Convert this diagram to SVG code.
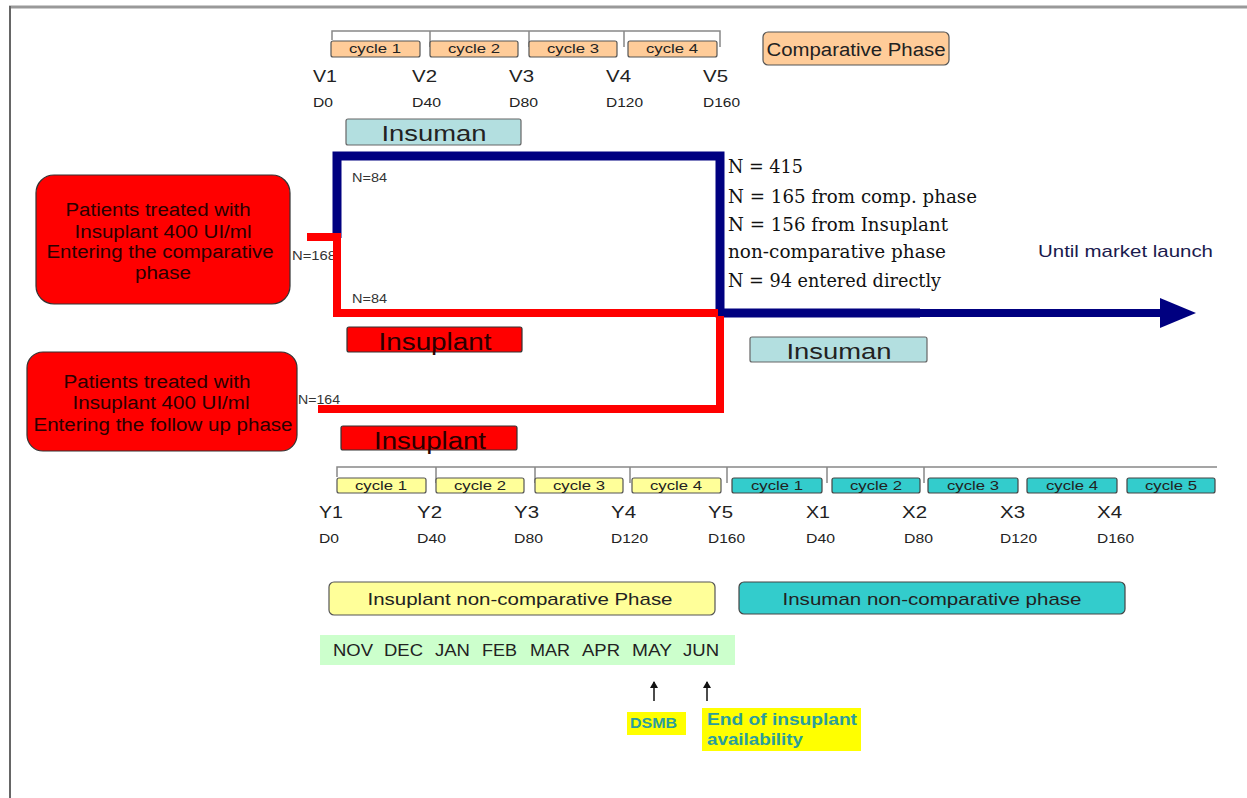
<svg xmlns="http://www.w3.org/2000/svg" width="1247" height="798" viewBox="0 0 1247 798">
<defs>
<style>
text{font-family:"Liberation Sans",Arial,sans-serif;}
.cyc{font-size:12px;fill:#222;text-anchor:middle;}
.lbl{font-size:17px;fill:#222;}
.day{font-size:13px;fill:#222;}
.or{fill:#FFCC99;stroke:#555;stroke-width:1.2;}
.ye{fill:#FFFF99;stroke:#555;stroke-width:1.2;}
.te{fill:#33CCCC;stroke:#444;stroke-width:1.2;}
.lt{fill:#B3DFE0;stroke:#666;stroke-width:1.2;}
.rd{fill:#FF0000;stroke:#333;stroke-width:1.2;}
.brk{fill:none;stroke:#888;stroke-width:1.5;}
.blue{fill:none;stroke:#000080;stroke-width:9;}
.red{fill:none;stroke:#FF0000;stroke-width:8;}
.rtxt{font-size:18px;fill:#2a0000;text-anchor:middle;}
.ntxt{font-family:"DejaVu Serif","Liberation Serif",serif;font-size:19px;fill:#111;}
.small{font-size:12px;fill:#333;}
.mon{font-size:16px;fill:#222;}
.hl{font-weight:bold;fill:#2A9D9D;}
</style>
<marker id="ah" markerWidth="8" markerHeight="8" refX="6" refY="4" orient="auto" markerUnits="userSpaceOnUse">
<path d="M0,0 L7,4 L0,8 Z" fill="#111"/>
</marker>
</defs>
<rect x="0" y="0" width="1247" height="798" fill="#fff"/>
<g id="frame">
<line x1="9" y1="7" x2="1247" y2="7" stroke="#999" stroke-width="3"/>
<line x1="10" y1="6" x2="10" y2="798" stroke="#666" stroke-width="2"/>
</g>

<g id="top-timeline">
<path class="brk" d="M332,40 V31 H720 V47 M430,31 V47 M529,31 V47 M624,31 V47"/>
<rect class="or" x="331" y="41" width="89" height="16" rx="2"/>
<text class="cyc" x="375" y="53" textLength="52" lengthAdjust="spacingAndGlyphs">cycle 1</text>
<rect class="or" x="430" y="41" width="88" height="16" rx="2"/>
<text class="cyc" x="474" y="53" textLength="52" lengthAdjust="spacingAndGlyphs">cycle 2</text>
<rect class="or" x="529" y="41" width="88" height="16" rx="2"/>
<text class="cyc" x="573" y="53" textLength="52" lengthAdjust="spacingAndGlyphs">cycle 3</text>
<rect class="or" x="628" y="41" width="89" height="16" rx="2"/>
<text class="cyc" x="672" y="53" textLength="52" lengthAdjust="spacingAndGlyphs">cycle 4</text>
<text class="lbl" x="313" y="82" textLength="24" lengthAdjust="spacingAndGlyphs">V1</text>
<text class="lbl" x="412" y="82" textLength="25" lengthAdjust="spacingAndGlyphs">V2</text>
<text class="lbl" x="509" y="82" textLength="25" lengthAdjust="spacingAndGlyphs">V3</text>
<text class="lbl" x="606" y="82" textLength="25" lengthAdjust="spacingAndGlyphs">V4</text>
<text class="lbl" x="703" y="82" textLength="25" lengthAdjust="spacingAndGlyphs">V5</text>
<text class="day" x="313" y="107" textLength="20" lengthAdjust="spacingAndGlyphs">D0</text>
<text class="day" x="412" y="107" textLength="29" lengthAdjust="spacingAndGlyphs">D40</text>
<text class="day" x="509" y="107" textLength="29" lengthAdjust="spacingAndGlyphs">D80</text>
<text class="day" x="606" y="107" textLength="37" lengthAdjust="spacingAndGlyphs">D120</text>
<text class="day" x="703" y="107" textLength="37" lengthAdjust="spacingAndGlyphs">D160</text>
</g>

<g id="comparative-phase">
<rect class="or" x="763" y="32" width="186" height="33" rx="5"/>
<text x="856" y="56" font-size="18" fill="#222" text-anchor="middle" textLength="179" lengthAdjust="spacingAndGlyphs">Comparative Phase</text>
</g>

<g id="insuman-top">
<rect class="lt" x="346" y="119" width="175" height="26" rx="2"/>
<text x="434" y="141" font-size="22" fill="#222" text-anchor="middle" textLength="105" lengthAdjust="spacingAndGlyphs">Insuman</text>
</g>

<g id="n-labels">
<text class="small" x="352" y="182" textLength="35" lengthAdjust="spacingAndGlyphs">N=84</text>
<text class="small" x="352" y="303" textLength="35" lengthAdjust="spacingAndGlyphs">N=84</text>
<text class="small" x="292" y="260" font-size="11" textLength="44" lengthAdjust="spacingAndGlyphs">N=168</text>
<text class="small" x="298" y="404" font-size="11" textLength="42" lengthAdjust="spacingAndGlyphs">N=164</text>
</g>

<g id="connectors">
<path class="blue" d="M337,238 V156 H720 V313 H920"/>
<path d="M920,313 H1162" fill="none" stroke="#000080" stroke-width="8"/>
<path class="red" d="M307,237 H337 V313 H718"/>
<path class="red" d="M318,409 H720 V316"/>
<path d="M1160,298 L1196,313 L1160,328 Z" fill="#000080"/>
<line x1="654" y1="701" x2="654" y2="682" stroke="#111" stroke-width="1.5" marker-end="url(#ah)"/>
<line x1="707" y1="701" x2="707" y2="682" stroke="#111" stroke-width="1.5" marker-end="url(#ah)"/>
</g>

<g id="box-comparative">
<rect class="rd" x="36" y="175" width="254" height="129" rx="18"/>
<text class="rtxt" x="158" y="216" textLength="185" lengthAdjust="spacingAndGlyphs">Patients treated with</text>
<text class="rtxt" x="163" y="238" textLength="177" lengthAdjust="spacingAndGlyphs">Insuplant 400 UI/ml</text>
<text class="rtxt" x="160" y="258" textLength="227" lengthAdjust="spacingAndGlyphs">Entering the comparative</text>
<text class="rtxt" x="163" y="279" textLength="56" lengthAdjust="spacingAndGlyphs">phase</text>
</g>

<g id="box-followup">
<rect class="rd" x="27" y="352" width="270" height="99" rx="16"/>
<text class="rtxt" x="157" y="388" textLength="187" lengthAdjust="spacingAndGlyphs">Patients treated with</text>
<text class="rtxt" x="161" y="409" textLength="177" lengthAdjust="spacingAndGlyphs">Insuplant 400 UI/ml</text>
<text class="rtxt" x="163" y="431" textLength="259" lengthAdjust="spacingAndGlyphs">Entering the follow up phase</text>
</g>

<g id="insuplant-1">
<rect class="rd" x="347" y="327" width="175" height="25" rx="2"/>
<text x="435" y="350" font-size="23" fill="#2a0000" text-anchor="middle" textLength="113" lengthAdjust="spacingAndGlyphs">Insuplant</text>
</g>
<g id="insuplant-2">
<rect class="rd" x="341" y="426" width="176" height="24" rx="2"/>
<text x="430" y="449" font-size="23" fill="#2a0000" text-anchor="middle" textLength="112" lengthAdjust="spacingAndGlyphs">Insuplant</text>
</g>

<g id="insuman-mid">
<rect class="lt" x="750" y="337" width="177" height="25" rx="2"/>
<text x="839" y="359" font-size="22" fill="#222" text-anchor="middle" textLength="105" lengthAdjust="spacingAndGlyphs">Insuman</text>
</g>

<g id="n-summary">
<text class="ntxt" x="728" y="173" textLength="75" lengthAdjust="spacingAndGlyphs">N = 415</text>
<text class="ntxt" x="728" y="203" textLength="249" lengthAdjust="spacingAndGlyphs">N = 165 from comp. phase</text>
<text class="ntxt" x="728" y="231" textLength="220" lengthAdjust="spacingAndGlyphs">N = 156 from Insuplant</text>
<text class="ntxt" x="728" y="258" textLength="218" lengthAdjust="spacingAndGlyphs">non-comparative phase</text>
<text class="ntxt" x="728" y="287" textLength="213" lengthAdjust="spacingAndGlyphs">N = 94 entered directly</text>
</g>

<g id="market-launch">
<text x="1038" y="257" font-size="17" fill="#1a1a4d" textLength="175" lengthAdjust="spacingAndGlyphs">Until market launch</text>
</g>

<g id="bottom-timeline">
<path class="brk" d="M337,477 V467 H1217 M436,467 V483 M535,467 V483 M630,467 V483 M727,467 V483 M827,467 V483 M924,467 V483"/>
<rect class="ye" x="337" y="478" width="89" height="15" rx="2"/>
<text class="cyc" x="381" y="490" textLength="52" lengthAdjust="spacingAndGlyphs">cycle 1</text>
<rect class="ye" x="436" y="478" width="88" height="15" rx="2"/>
<text class="cyc" x="480" y="490" textLength="52" lengthAdjust="spacingAndGlyphs">cycle 2</text>
<rect class="ye" x="535" y="478" width="88" height="15" rx="2"/>
<text class="cyc" x="579" y="490" textLength="52" lengthAdjust="spacingAndGlyphs">cycle 3</text>
<rect class="ye" x="632" y="478" width="89" height="15" rx="2"/>
<text class="cyc" x="676" y="490" textLength="52" lengthAdjust="spacingAndGlyphs">cycle 4</text>
<rect class="te" x="732" y="478" width="90" height="15" rx="2"/>
<text class="cyc" x="777" y="490" textLength="52" lengthAdjust="spacingAndGlyphs">cycle 1</text>
<rect class="te" x="832" y="478" width="88" height="15" rx="2"/>
<text class="cyc" x="876" y="490" textLength="52" lengthAdjust="spacingAndGlyphs">cycle 2</text>
<rect class="te" x="928" y="478" width="90" height="15" rx="2"/>
<text class="cyc" x="973" y="490" textLength="52" lengthAdjust="spacingAndGlyphs">cycle 3</text>
<rect class="te" x="1027" y="478" width="90" height="15" rx="2"/>
<text class="cyc" x="1072" y="490" textLength="52" lengthAdjust="spacingAndGlyphs">cycle 4</text>
<rect class="te" x="1127" y="478" width="88" height="15" rx="2"/>
<text class="cyc" x="1171" y="490" textLength="52" lengthAdjust="spacingAndGlyphs">cycle 5</text>
<text class="lbl" x="319" y="518" textLength="24" lengthAdjust="spacingAndGlyphs">Y1</text>
<text class="lbl" x="417" y="518" textLength="25" lengthAdjust="spacingAndGlyphs">Y2</text>
<text class="lbl" x="514" y="518" textLength="25" lengthAdjust="spacingAndGlyphs">Y3</text>
<text class="lbl" x="611" y="518" textLength="25" lengthAdjust="spacingAndGlyphs">Y4</text>
<text class="lbl" x="708" y="518" textLength="25" lengthAdjust="spacingAndGlyphs">Y5</text>
<text class="lbl" x="806" y="518" textLength="24" lengthAdjust="spacingAndGlyphs">X1</text>
<text class="lbl" x="902" y="518" textLength="25" lengthAdjust="spacingAndGlyphs">X2</text>
<text class="lbl" x="1000" y="518" textLength="25" lengthAdjust="spacingAndGlyphs">X3</text>
<text class="lbl" x="1097" y="518" textLength="25" lengthAdjust="spacingAndGlyphs">X4</text>
<text class="day" x="319" y="543" textLength="20" lengthAdjust="spacingAndGlyphs">D0</text>
<text class="day" x="417" y="543" textLength="29" lengthAdjust="spacingAndGlyphs">D40</text>
<text class="day" x="514" y="543" textLength="29" lengthAdjust="spacingAndGlyphs">D80</text>
<text class="day" x="611" y="543" textLength="37" lengthAdjust="spacingAndGlyphs">D120</text>
<text class="day" x="708" y="543" textLength="37" lengthAdjust="spacingAndGlyphs">D160</text>
<text class="day" x="806" y="543" textLength="29" lengthAdjust="spacingAndGlyphs">D40</text>
<text class="day" x="904" y="543" textLength="29" lengthAdjust="spacingAndGlyphs">D80</text>
<text class="day" x="1000" y="543" textLength="37" lengthAdjust="spacingAndGlyphs">D120</text>
<text class="day" x="1097" y="543" textLength="37" lengthAdjust="spacingAndGlyphs">D160</text>
</g>

<g id="phase-insuplant">
<rect class="ye" x="329" y="582" width="386" height="33" rx="5"/>
<text x="520" y="605" font-size="17" fill="#222" text-anchor="middle" textLength="305" lengthAdjust="spacingAndGlyphs">Insuplant non-comparative Phase</text>
</g>
<g id="phase-insuman">
<rect class="te" x="739" y="582" width="386" height="32" rx="5"/>
<text x="932" y="605" font-size="17" fill="#222" text-anchor="middle" textLength="299" lengthAdjust="spacingAndGlyphs">Insuman non-comparative phase</text>
</g>

<g id="months">
<rect x="320" y="635" width="415" height="30" fill="#CCFFCC"/>
<text class="mon" x="333" y="656" textLength="40" lengthAdjust="spacingAndGlyphs">NOV</text>
<text class="mon" x="384" y="656" textLength="39" lengthAdjust="spacingAndGlyphs">DEC</text>
<text class="mon" x="435" y="656" textLength="35" lengthAdjust="spacingAndGlyphs">JAN</text>
<text class="mon" x="482" y="656" textLength="35" lengthAdjust="spacingAndGlyphs">FEB</text>
<text class="mon" x="530" y="656" textLength="40" lengthAdjust="spacingAndGlyphs">MAR</text>
<text class="mon" x="582" y="656" textLength="38" lengthAdjust="spacingAndGlyphs">APR</text>
<text class="mon" x="632" y="656" textLength="40" lengthAdjust="spacingAndGlyphs">MAY</text>
<text class="mon" x="683" y="656" textLength="36" lengthAdjust="spacingAndGlyphs">JUN</text>
</g>

<g id="dsmb">
<rect x="627" y="712" width="59" height="23" fill="#FFFF00"/>
<text class="hl" x="630" y="728" font-size="14" textLength="47" lengthAdjust="spacingAndGlyphs">DSMB</text>
</g>
<g id="end-availability">
<rect x="702" y="708" width="159" height="43" fill="#FFFF00"/>
<text class="hl" x="707" y="725" font-size="16" textLength="150" lengthAdjust="spacingAndGlyphs">End of insuplant</text>
<text class="hl" x="707" y="745" font-size="16" textLength="96" lengthAdjust="spacingAndGlyphs">availability</text>
</g>
</svg>
